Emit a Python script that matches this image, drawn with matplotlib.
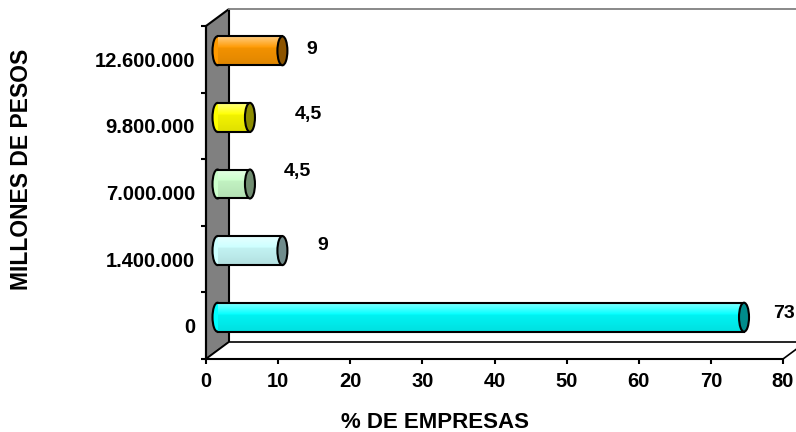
import numpy as np
import matplotlib.pyplot as plt
from matplotlib.patches import Polygon, Ellipse
from matplotlib.colors import to_rgb

# datos
categorias = ["0", "1.400.000", "7.000.000", "9.800.000", "12.600.000"]
porcentajes = [73, 9, 4.5, 4.5, 9]
etiquetas = ["73", "9", "4,5", "4,5", "9"]
colores = ["#00FFFF", "#CCFFFF", "#CCFFCC", "#FFFF00", "#FF9900"]

# the value labels were dragged around by hand in the original, offsets in points
offs_etiq = [(29, 3), (29, 4), (34, 9), (42, 2), (21, 1)]

plt.rcParams["font.family"] = ["Liberation Sans", "DejaVu Sans"]
plt.rcParams["font.weight"] = "bold"

fig = plt.figure(figsize=(7.96, 4.32), dpi=100)
ax = fig.add_axes([206 / 796, 73 / 432, 577 / 796, 333 / 432])
ax.patch.set_visible(False)

xmax = 80
# depth of the fake 3d box, in data units
dx = 23 / 577 * xmax
dy = 17 / 333 * 5
y0, y1 = -0.5, len(categorias) - 0.5

# side wall (grey) and floor
ax.add_patch(Polygon([(0, y0), (dx, y0 + dy), (dx, y1 + dy), (0, y1)],
                     closed=True, fc="#808080", ec="black", lw=1.5,
                     clip_on=False, zorder=1))
ax.add_patch(Polygon([(0, y0), (dx, y0 + dy), (xmax + dx, y0 + dy), (xmax, y0)],
                     closed=True, fc="white", ec="black", lw=1.2,
                     clip_on=False, zorder=1))
ax.plot([dx, xmax + 10], [y1 + dy, y1 + dy], color="#808080", lw=1.3,
        clip_on=False, zorder=1)


def mezcla(c, otro, t):
    c = np.array(to_rgb(c))
    return c * (1 - t) + np.array(otro) * t


alto = 0.435
ancho_tapa = 10 / 577 * xmax

for i, (v, c) in enumerate(zip(porcentajes, colores)):
    yc = i + dy / 2
    xa = dx / 2
    xb = v + dx / 2
    # left cap
    ax.add_patch(Ellipse((xa, yc), ancho_tapa, alto, fc=c, ec="black",
                         lw=1.5, zorder=3))
    # body with a soft vertical gradient
    t = np.linspace(0, 1, 30)
    grad = np.array([mezcla(c, (0, 0, 0), 0.12 * (1 - s)) if s < 0.6
                     else mezcla(c, (1, 1, 1), 0.5 * (s - 0.6) / 0.4)
                     for s in t]).reshape(-1, 1, 3)
    ax.imshow(grad, extent=(xa, xb, yc - alto / 2, yc + alto / 2),
              origin="lower", aspect="auto", interpolation="bilinear",
              zorder=4)
    ax.plot([xa, xb], [yc + alto / 2] * 2, color="black", lw=1.5, zorder=5)
    ax.plot([xa, xb], [yc - alto / 2] * 2, color="black", lw=1.5, zorder=5)
    # right cap, darker
    ax.add_patch(Ellipse((xb, yc), ancho_tapa, alto, fc=mezcla(c, (0, 0, 0), 0.45),
                         ec="black", lw=1.5, zorder=6))
    ax.annotate(etiquetas[i], xy=(xb, yc), xytext=offs_etiq[i],
                textcoords="offset points", ha="center", va="center",
                fontsize=14, fontweight="bold", annotation_clip=False)

ax.set_xlim(0, xmax)
ax.set_ylim(y0, y1)

ax.set_xticks(range(0, xmax + 1, 10))
ax.tick_params(axis="x", direction="out", length=3.6, width=1.5, pad=6,
               labelsize=14.5)
ax.set_yticks(range(len(categorias)))
ax.set_yticklabels(categorias)
ax.set_yticks(np.arange(y0, y1 + 0.01, 1), minor=True)
ax.tick_params(axis="y", which="major", length=0, pad=8, labelsize=14.5)
ax.tick_params(axis="y", which="minor", direction="out", length=3.6, width=1.5)

for s in ["top", "right"]:
    ax.spines[s].set_visible(False)
for s in ["left", "bottom"]:
    ax.spines[s].set_linewidth(1.5)
    ax.spines[s].set_zorder(2)

ax.set_xlabel("% DE EMPRESAS", fontsize=16, fontweight="bold", va="center")
ax.xaxis.set_label_coords(0.397, -0.192)
ax.set_ylabel("MILLONES DE PESOS", fontsize=16.5, fontweight="bold", va="center")
ax.yaxis.set_label_coords(-0.319, 0.568)

fig.savefig("out.png", dpi=100)
